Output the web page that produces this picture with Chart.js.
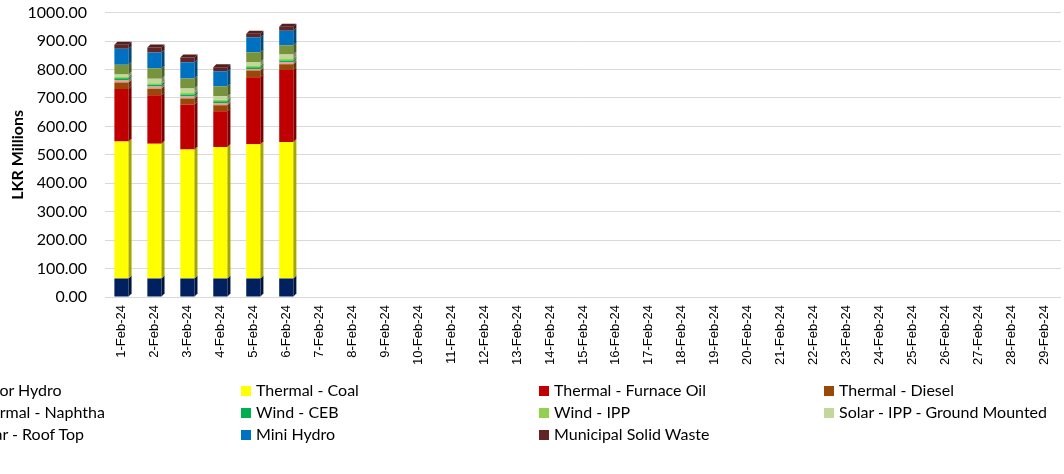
<!DOCTYPE html>
<html>
<head>
<meta charset="utf-8">
<script src="https://cdn.jsdelivr.net/npm/chart.js@4"></script>
<style>
  body { margin: 0; width: 1064px; height: 474px; overflow: hidden; background: #fff; position: relative; }
  #wrap { position: absolute; left: 0; top: -15px; width: 1068px; height: 395px; }
  #legend { position: absolute; left: 0; top: 0; width: 1064px; height: 474px; pointer-events: none;
            font-family: Lato, "Open Sans", sans-serif; font-size: 16px; color: #000; }
  .item { position: absolute; white-space: nowrap; line-height: 20px; }
  .sq { display: inline-block; width: 10px; height: 10px; margin-right: 5px; vertical-align: 0px; }
</style>
</head>
<body>
<div id="wrap"><canvas id="myChart"></canvas></div>
<div id="legend"></div>
<script>
const days = []
for (let d = 1; d <= 29; d++) days.push(d + "-Feb-24")

const yTicks = [0, 100, 200, 300, 400, 500, 600, 700, 800, 900, 1000]

const seriesNames = ["Major Hydro", "Thermal - Coal", "Thermal - Furnace Oil", "Thermal - Diesel",
  "Thermal - Naphtha", "Wind - CEB", "Wind - IPP", "Solar - IPP - Ground Mounted",
  "Solar - Roof Top", "Mini Hydro", "Municipal Solid Waste"]
const seriesColors = ["#002060", "#FFFF00", "#C00000", "#984807", "#E6A09C", "#00B050",
  "#92D050", "#C3D69B", "#77933C", "#0070C0", "#632523"]

const majorHydro  = [65, 65, 65, 65, 65, 65]
const coal        = [482, 474, 454, 462, 472, 480]
const furnaceOil  = [184, 170, 158, 126, 236, 253]
const diesel      = [23, 23, 21, 21, 23, 20]
const naphtha     = [9, 8, 7, 8, 6, 8]
const windCEB     = [6, 6, 7, 6, 6, 6]
const windIPP     = [5, 6, 7, 6, 6, 7]
const solarGround = [8, 15, 14, 12, 12, 14]
const roofTop     = [35, 37, 35, 35, 35, 32]
const miniHydro   = [56, 56, 57, 53, 52, 51]
const msw         = [14, 17, 17, 14, 13, 14]

const seriesValues = [majorHydro, coal, furnaceOil, diesel, naphtha, windCEB, windIPP,
  solarGround, roofTop, miniHydro, msw]

function shade(hex, f) {
  let r = parseInt(hex.slice(1, 3), 16), g = parseInt(hex.slice(3, 5), 16), b = parseInt(hex.slice(5, 7), 16)
  return "rgb(" + Math.round(r * f) + "," + Math.round(g * f) + "," + Math.round(b * f) + ")"
}

// fake 3D side and top faces like the Excel chart
const depth = 3
const bars3d = {
  id: "bars3d",
  afterDatasetsDraw(chart) {
    const ctx = chart.ctx
    const n = chart.data.datasets.length
    ctx.save()
    chart.data.datasets.forEach((ds, i) => {
      const meta = chart.getDatasetMeta(i)
      meta.data.forEach((bar, j) => {
        if (ds.data[j] == null) return
        const p = bar.getProps(["x", "y", "base", "width"], true)
        const l = p.x - p.width / 2, r = p.x + p.width / 2
        ctx.fillStyle = shade(seriesColors[i], 0.65)
        ctx.beginPath()
        ctx.moveTo(r, p.y); ctx.lineTo(r + depth, p.y - depth)
        ctx.lineTo(r + depth, p.base - depth); ctx.lineTo(r, p.base)
        ctx.closePath(); ctx.fill()
        if (i == n - 1) {
          ctx.fillStyle = shade(seriesColors[i], 0.85)
          ctx.beginPath()
          ctx.moveTo(l, p.y); ctx.lineTo(l + depth, p.y - depth)
          ctx.lineTo(r + depth, p.y - depth); ctx.lineTo(r, p.y)
          ctx.closePath(); ctx.fill()
        }
      })
    })
    ctx.restore()
  }
}

const ctx = document.getElementById("myChart")
new Chart(ctx, {
  type: "bar",
  data: {
    labels: days,
    datasets: seriesNames.map((name, i) => ({
      label: name,
      data: seriesValues[i],
      backgroundColor: seriesColors[i],
      borderWidth: 0,
      categoryPercentage: 1,
      barPercentage: 0.43
    }))
  },
  plugins: [bars3d],
  options: {
    responsive: true,
    maintainAspectRatio: false,
    animation: false,
    layout: { padding: { top: 0, left: 0, right: 0, bottom: 0 } },
    plugins: { legend: { display: false }, tooltip: { enabled: false } },
    scales: {
      x: {
        stacked: true,
        grid: { display: false, drawTicks: false },
        border: { display: false },
        ticks: {
          minRotation: 90, maxRotation: 90, autoSkip: false, padding: 8,
          color: "#000", font: { family: "Liberation Sans", size: 13 }
        },
        afterFit(scale) { scale.height = 83 }
      },
      y: {
        stacked: true,
        min: 0, max: 1000,
        afterBuildTicks(scale) { scale.ticks = yTicks.map(v => ({ value: v })) },
        grid: { color: "#D9D9D9", drawTicks: false },
        border: { display: false },
        ticks: {
          padding: 18, color: "#000",
          font: { family: "Lato", size: 16 },
          callback: v => v.toFixed(2)
        },
        title: {
          display: true, text: "LKR Millions", color: "#000",
          font: { family: "Lato", size: 16, weight: "bold" },
          padding: { top: 8, bottom: 0 }
        },
        afterFit(scale) { scale.width = 105 }
      }
    }
  }
})

// legend, laid out like the clipped Excel legend
const legend = document.getElementById("legend")
const colX = [-42, 241, 539, 824]
const rowY = [380, 402, 424]
seriesNames.forEach((name, i) => {
  const div = document.createElement("div")
  div.className = "item"
  div.style.left = colX[i % 4] + "px"
  div.style.top = rowY[Math.floor(i / 4)] + "px"
  div.innerHTML = '<span class="sq" style="background:' + seriesColors[i] + '"></span>' + name
  legend.appendChild(div)
})
</script>
</body>
</html>
